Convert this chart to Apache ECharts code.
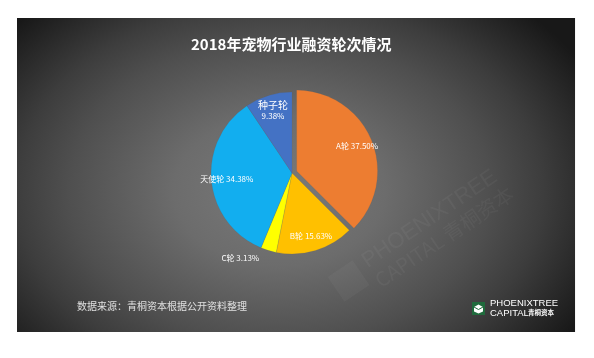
<!DOCTYPE html>
<html>
<head>
<meta charset="utf-8">
<script src="https://cdn.jsdelivr.net/npm/echarts@6/dist/echarts.min.js"></script>
<style>
html,body{margin:0;padding:0;background:#fff;}
#c{width:594px;height:358px;}
</style>
</head>
<body>
<div id="c"></div>
<script>
// ---- data ----
const titleText = '2018年宠物行业融资轮次情况';
const sourceText = '数据来源：青桐资本根据公开资料整理';
const categories = ['A轮', 'B轮', 'C轮', '天使轮', '种子轮'];
const shares = [37.50, 15.63, 3.13, 34.38, 9.38];
const sliceColors = ['#ED7D31', '#FFC000', '#FFFF00', '#12AEEF', '#4472C4'];

const chart = echarts.init(document.getElementById('c'), null, {renderer: 'canvas'});

const CJK = '"Noto Sans CJK SC", "Noto Sans", sans-serif';

const mainData = categories.map((name, i) => ({
  name: name,
  value: shares[i],
  selected: i === 0,
  itemStyle: {color: sliceColors[i]}
}));

const fmt = p => p.name + ' ' + p.value.toFixed(2) + '%';

const labelData = categories.map((name, i) => {
  const item = {name: name, value: shares[i], selected: i === 0};
  if (name === 'C轮') {
    item.label = {position: 'outside', fontSize: 8};
    item.labelLine = {show: false, length: 8, length2: 2};
  }
  if (name === '种子轮') {
    item.label = {
      formatter: p => '{a|' + p.name + '}\n{c|' + p.value.toFixed(2) + '%}',
      rich: {
        a: {fontSize: 10, color: '#fff', fontFamily: CJK, lineHeight: 12},
        c: {fontSize: 8, color: '#fff', fontFamily: CJK, lineHeight: 11}
      }
    };
  }
  return item;
});

const option = {
  animation: false,
  backgroundColor: '#ffffff',
  graphic: [
    {
      type: 'rect', z: -10, silent: true,
      x: 17, y: 18, scaleX: 1.4,
      shape: {x: 0, y: 0, width: 398.6, height: 314},
      style: {
        fill: new echarts.graphic.RadialGradient(0.47, 0.55, 0.8, [
          {offset: 0, color: '#7a7a7a'},
          {offset: 0.3, color: '#6c6c6c'},
          {offset: 0.6, color: '#4f4f4f'},
          {offset: 0.75, color: '#3d3d3d'},
          {offset: 1, color: '#181818'}
        ])
      }
    },
    // faint watermark
    {
      type: 'group', silent: true, z: -5,
      x: 365, y: 300, rotation: Math.PI * 34 / 180,
      children: [
        {type: 'rect', shape: {x: -18, y: -40, width: 30, height: 30},
         style: {fill: 'rgba(255,255,255,0.035)'}},
        {type: 'text', x: 20, y: -42,
         style: {text: 'PHOENIXTREE', fill: 'rgba(255,255,255,0.045)', fontSize: 22, fontFamily: 'Liberation Sans'}},
        {type: 'text', x: 20, y: -18,
         style: {text: 'CAPITAL 青桐资本', fill: 'rgba(255,255,255,0.045)', fontSize: 20, fontFamily: CJK}}
      ]
    },
    // logo
    {
      type: 'rect', silent: true,
      shape: {x: 472, y: 302, width: 13, height: 13},
      style: {fill: '#1f6a3c'}
    },
    {
      type: 'polygon', silent: true,
      shape: {points: [[478.5, 304.5], [483, 307], [483, 311.5], [478.5, 313.5], [474, 311.5], [474, 307]]},
      style: {fill: '#ffffff'}
    },
    {
      type: 'polyline', silent: true,
      shape: {points: [[474, 307], [478.5, 309.5], [483, 307]]},
      style: {stroke: '#1f6a3c', lineWidth: 1, fill: null}
    },
    {
      type: 'text', silent: true, x: 490, y: 298,
      style: {text: 'PHOENIXTREE', fill: '#ffffff', fontSize: 9.5, fontFamily: 'Liberation Sans'}
    },
    {
      type: 'text', silent: true, x: 490, y: 308,
      style: {text: 'CAPITAL', fill: '#ffffff', fontSize: 9.5, fontFamily: 'Liberation Sans'}
    },
    {
      type: 'text', silent: true, x: 528, y: 309.5,
      style: {text: '青桐资本', fill: '#ffffff', fontSize: 6.5, fontWeight: 'bold', fontFamily: CJK}
    },
    // source
    {
      type: 'text', silent: true, x: 77, y: 301,
      style: {text: sourceText, fill: '#e0e0e0', fontSize: 10, fontFamily: CJK}
    }
  ],
  title: {
    text: titleText,
    left: 186, top: 32,
    textStyle: {color: '#ffffff', fontSize: 15, fontWeight: 'bold', fontFamily: CJK}
  },
  series: [
    {
      type: 'pie',
      center: [292, 173],
      radius: [0, 81],
      startAngle: 90,
      clockwise: true,
      selectedMode: 'single',
      selectedOffset: 5,
      avoidLabelOverlap: false,
      label: {show: false},
      labelLine: {show: false},
      emphasis: {disabled: true},
      itemStyle: {borderColor: 'rgba(90,90,90,0.35)', borderWidth: 0.5},
      data: mainData
    },
    {
      type: 'pie',
      silent: true,
      center: [292, 173],
      radius: [44, 81],
      startAngle: 90,
      clockwise: true,
      selectedMode: 'single',
      selectedOffset: 5,
      avoidLabelOverlap: false,
      itemStyle: {color: 'rgba(0,0,0,0)'},
      emphasis: {disabled: true},
      label: {
        show: true,
        position: 'inside',
        formatter: fmt,
        color: '#ffffff',
        fontSize: 8,
        fontFamily: CJK
      },
      labelLine: {show: false},
      data: labelData
    }
  ]
};

chart.setOption(option);
</script>
</body>
</html>
